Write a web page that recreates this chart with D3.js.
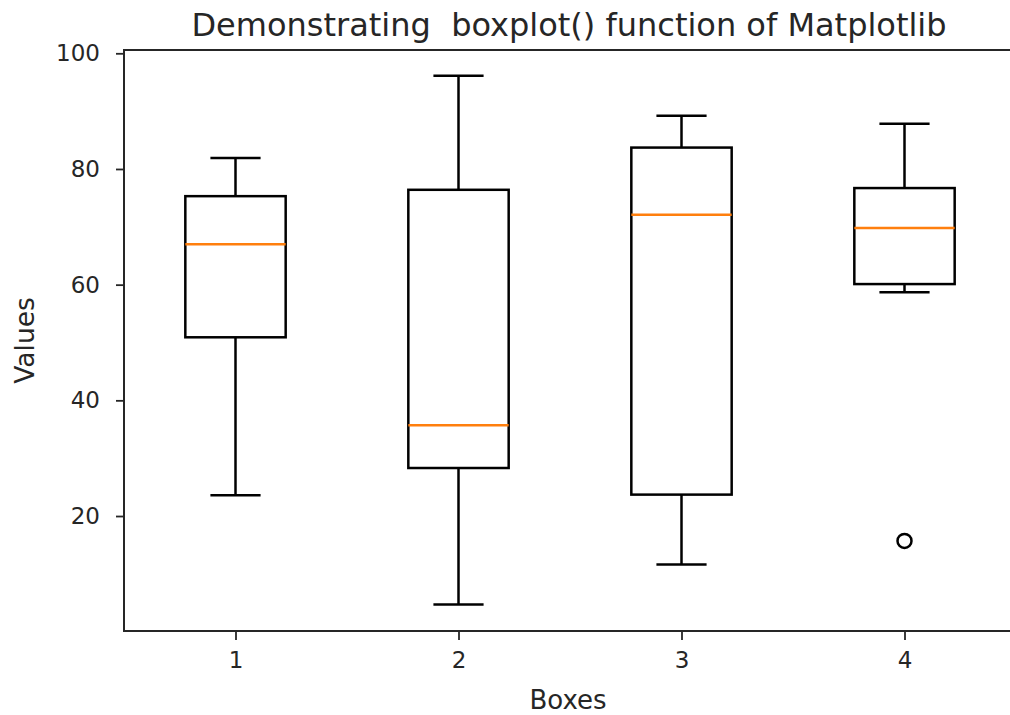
<!DOCTYPE html>
<meta charset="utf-8">
<style>
body { margin: 0; background: #fff; }
text { font-family: "DejaVu Sans", sans-serif; fill: #262626; }
.axis path, .axis line { stroke: #262626; }
.box { fill: none; stroke: #000; stroke-width: 2.5px; }
.median { stroke: #ff7f0e; stroke-width: 2.5px; }
.flier { fill: none; stroke: #000; stroke-width: 2.5px; }
</style>
<svg width="1010" height="715"></svg>
<script src="https://cdn.jsdelivr.net/npm/d3@7"></script>
<script>

// box statistics
var boxes = ["1", "2", "3", "4"];
var whiskerLow  = [23.6, 4.7, 11.6, 58.7];
var q1          = [50.9, 28.3, 23.7, 60.1];
var median      = [67.0, 35.7, 72.1, 69.8];
var q3          = [75.3, 76.4, 83.7, 76.7];
var whiskerHigh = [81.9, 96.1, 89.2, 87.8];
var fliers      = [[], [], [], [15.7]];
var yTicks = [20, 40, 60, 80, 100];

var svg = d3.select("svg"),
    margin = {top: 50, left: 124, bottom: 631, right: 1016};

var x = d3.scaleLinear().domain([0.5, 4.5]).range([margin.left, margin.right]),
    y = d3.scaleLinear().domain([0.12, 100.57]).range([margin.bottom, margin.top]);

var boxW = 0.45, capW = boxW / 2;

var g = svg.append("g");

// axes
svg.append("g")
    .attr("class", "axis")
    .attr("transform", "translate(" + margin.left + ",0)")
    .call(d3.axisLeft(y).tickValues(yTicks).tickSize(8).tickPadding(16).tickSizeOuter(0));
svg.append("g")
    .attr("class", "axis")
    .attr("transform", "translate(0," + margin.bottom + ")")
    .call(d3.axisBottom(x).tickValues([1, 2, 3, 4]).tickFormat(function(d) { return boxes[d - 1]; })
      .tickSize(9).tickPadding(12).tickSizeOuter(0));
svg.selectAll(".axis text").style("font-size", "23px").attr("fill", "#262626");
svg.selectAll(".axis line").style("stroke-width", "1.8px");
svg.selectAll(".axis path").remove();

// spines
svg.append("rect")
    .attr("x", margin.left).attr("y", margin.top)
    .attr("width", margin.right - margin.left).attr("height", margin.bottom - margin.top)
    .attr("fill", "none").attr("stroke", "#262626").attr("stroke-width", 2);

boxes.forEach(function(b, i) {
  var c = i + 1;
  var bg = g.append("g");
  // whiskers
  bg.append("line").attr("class", "box")
    .attr("x1", x(c)).attr("x2", x(c)).attr("y1", y(q1[i])).attr("y2", y(whiskerLow[i]));
  bg.append("line").attr("class", "box")
    .attr("x1", x(c)).attr("x2", x(c)).attr("y1", y(q3[i])).attr("y2", y(whiskerHigh[i]));
  // caps
  [whiskerLow[i], whiskerHigh[i]].forEach(function(v) {
    bg.append("line").attr("class", "box")
      .attr("x1", x(c - capW / 2)).attr("x2", x(c + capW / 2)).attr("y1", y(v)).attr("y2", y(v));
  });
  // box
  bg.append("rect").attr("class", "box")
    .attr("x", x(c - boxW / 2)).attr("width", x(c + boxW / 2) - x(c - boxW / 2))
    .attr("y", y(q3[i])).attr("height", y(q1[i]) - y(q3[i]));
  // median
  bg.append("line").attr("class", "median")
    .attr("x1", x(c - boxW / 2)).attr("x2", x(c + boxW / 2)).attr("y1", y(median[i])).attr("y2", y(median[i]));
  // outliers
  bg.selectAll(".flier").data(fliers[i]).enter().append("circle")
    .attr("class", "flier").attr("cx", x(c)).attr("cy", function(d) { return y(d); }).attr("r", 7);
});

svg.append("text")
    .attr("x", 569).attr("y", 36)
    .attr("text-anchor", "middle").style("font-size", "32px")
    .style("white-space", "pre")
    .text("Demonstrating  boxplot() function of Matplotlib");

svg.append("text")
    .attr("x", 568).attr("y", 709)
    .attr("text-anchor", "middle").style("font-size", "26px")
    .text("Boxes");

svg.append("text")
    .attr("transform", "translate(34," + (margin.top + margin.bottom) / 2 + ") rotate(-90)")
    .attr("text-anchor", "middle").style("font-size", "26.5px")
    .text("Values");

</script>
